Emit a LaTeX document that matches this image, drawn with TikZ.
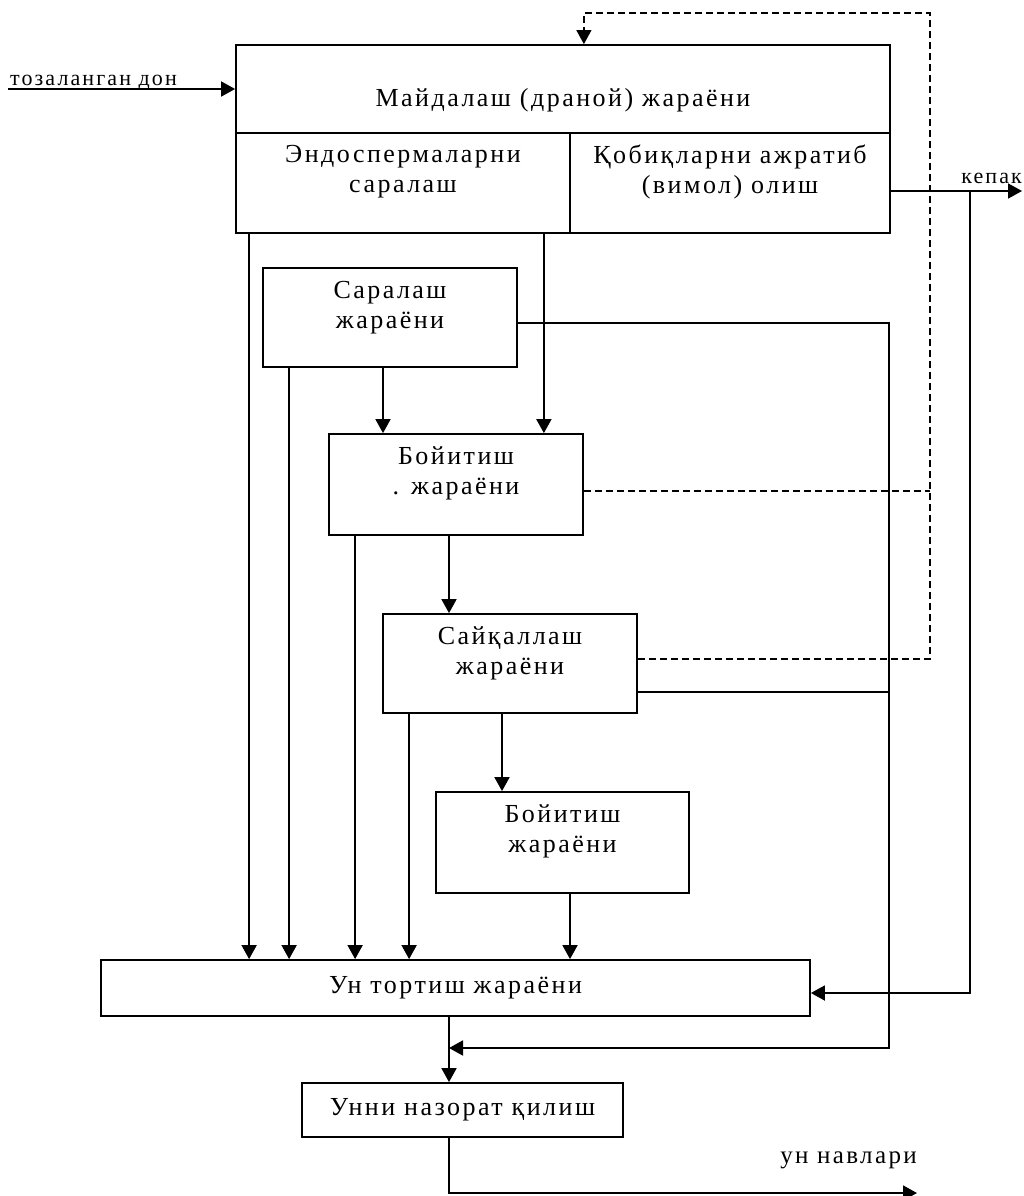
\documentclass[tikz,border=0pt]{standalone}
\usepackage{fontspec}
\setmainfont[LetterSpace=9.5]{Liberation Serif}
\usetikzlibrary{arrows.meta,positioning}

\begin{document}
\begin{tikzpicture}[x=1pt, y=-1pt,
  box/.style={draw, line width=1.8pt, inner sep=0pt, font=\fontsize{26}{30}\selectfont},
  txt/.style={align=center, inner sep=0pt, font=\fontsize{26}{30}\selectfont},
  note/.style={inner sep=0pt, font=\fontsize{22}{26}\selectfont},
  flow/.style={line width=1.8pt},
  arrow/.style={flow, -{Triangle[length=14pt,width=15pt]}},
  fback/.style={line width=1.2pt, dash pattern=on 7pt off 4pt}
]
\useasboundingbox (0,0) rectangle (1024,1196);

% milling unit
\node[box, minimum width=654, minimum height=88, label={[txt, yshift=-11pt]center:Майдалаш (драной) жараёни}] (crush) at (563,89) {};
\node[box, minimum width=334, minimum height=100, label={[txt, yshift=11pt]center:Эндоспермаларни\\саралаш}] (endo) at (403,183) {};
\node[box, minimum width=320, minimum height=100, label={[txt, yshift=11pt]center:Қобиқларни ажратиб\\(вимол) олиш}] (bran) at (730,183) {};

% process steps
\node[box, minimum width=254, minimum height=99, label={[txt, yshift=10pt]center:Саралаш\\жараёни}] (sort) at (390,317.5) {};
\node[box, minimum width=254, minimum height=101, label={[txt, yshift=11pt]center:Бойитиш\\. жараёни}] (enrich) at (456,484.5) {};
\node[box, minimum width=254, minimum height=99, label={[txt, yshift=10pt]center:Сайқаллаш\\жараёни}] (polish) at (510,663.5) {};
\node[box, minimum width=253, minimum height=101, label={[txt, yshift=11pt]center:Бойитиш\\жараёни}] (enrichB) at (562.5,842.5) {};
\node[box, minimum width=709, minimum height=56] (mill) at (455.5,988) {Ун тортиш жараёни};
\node[box, minimum width=321, minimum height=54] (check) at (462.5,1110) {Унни назорат қилиш};

% grain in, bran out
\coordinate (grain) at (8,89);
\draw[arrow] (grain) -- (crush.west);
\node[note, anchor=base west] (grainlbl) at ([shift={(2,-3)}]grain) {тозаланган дон};
\coordinate (branout) at (1022,191);
\draw[arrow] (bran.east |- branout) -- (branout);
\node[note, anchor=base east] (branlbl) at ([shift={(0,-8)}]branout) {кепак};
\coordinate (branturn) at (970,191);
\draw[arrow] (branturn) |- ([yshift=-5pt]mill.east);

% return to milling (dashed)
\coordinate (loop) at (930,13);
\coordinate (polback) at ([yshift=4.5pt]polish.east);
\coordinate (enrback) at ([yshift=-6.5pt]enrich.east);
\draw[fback, -{Triangle[length=14pt,width=15pt]}] (polback) -| (loop) -| (crush.north -| enrich.east);
\draw[fback] (enrback) -- (enrback -| loop);

% side stream to flour control
\coordinate (merge) at (449,1048);
\coordinate (rail) at (889,1048);
\coordinate (sortout) at ([yshift=-5.5pt]sort.east);
\coordinate (polout) at ([yshift=-28.5pt]polish.east);
\draw[arrow] (sortout) -| (rail) -- (merge);
\draw[flow] (polout) -- (polout -| rail);

% main flow
\draw[arrow] ([xshift=-27pt]endo.south east) coordinate (d) -- (d |- enrich.north);
\draw[arrow] ([xshift=-7pt]sort.south) coordinate (d) -- (d |- enrich.north);
\draw[arrow] ([xshift=-7pt]enrich.south) coordinate (d) -- (d |- polish.north);
\draw[arrow] ([xshift=-8pt]polish.south) coordinate (d) -- (d |- enrichB.north);
\draw[arrow] ([xshift=7.5pt]enrichB.south) coordinate (d) -- (d |- mill.north);
\foreach \src/\dx in {endo/14,sort/27,enrich/27,polish/27}
  \draw[arrow] ([xshift=\dx pt]\src.south west) coordinate (d) -- (d |- mill.north);
\draw[arrow] (mill.south -| merge) -- (check.north -| merge);
\coordinate (out) at (917,1193);
\draw[arrow] (check.south -| merge) |- (out);
\node[note, font=\fontsize{25}{30}\selectfont, anchor=base east] (outlbl) at ([shift={(0,-30)}]out) {ун навлари};
\end{tikzpicture}
\end{document}
